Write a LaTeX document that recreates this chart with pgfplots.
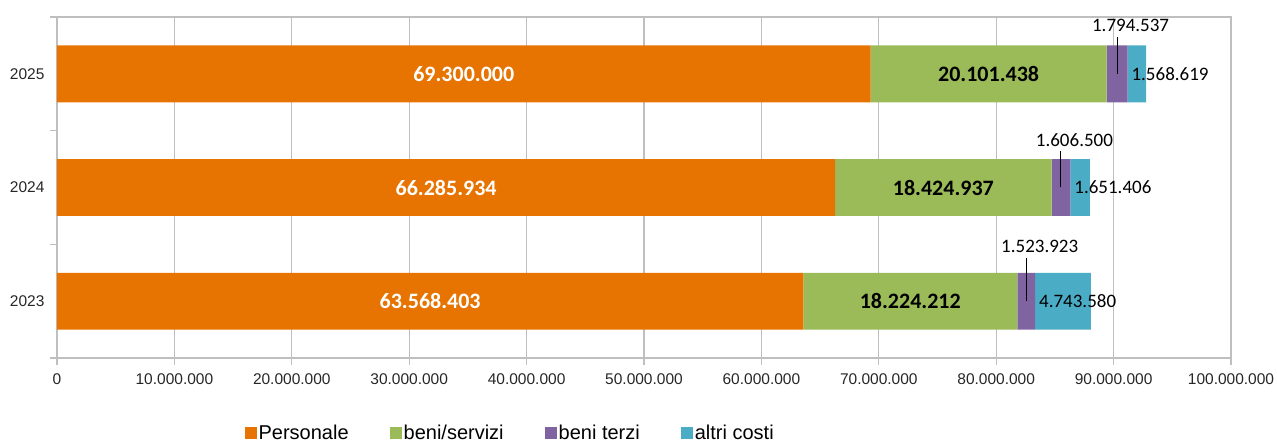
\documentclass[border=0pt]{standalone}
\usepackage{fontspec}
\setmainfont{Liberation Sans}
\newfontfamily\carlito{Carlito}
\usepackage{pgfplots}
\pgfplotsset{compat=1.18}

\definecolor{cPers}{HTML}{E77300}
\definecolor{cBeni}{HTML}{9BBB59}
\definecolor{cTerzi}{HTML}{8064A2}
\definecolor{cAltri}{HTML}{4BACC6}
\definecolor{cGrid}{HTML}{BFBFBF}

% labels hung on the "beni terzi" segment centre:
% #1 leader length, #2 beni terzi value, #3 gap to altri costi label, #4 altri costi value
\newcommand{\leader}[4]{\vbox{\offinterlineskip
  \hbox to 0pt{\hss\hspace{27pt}#2\hss}\kern5pt
  \hbox to 0pt{\hss\rule{0.9pt}{#1}\rlap{\hspace{#3}\smash{\raisebox{-0.5\height}{#4}}}\hss}}}

\pgfplotsset{
  sq/.style={legend image code/.code={\fill[##1] (0pt,-6pt) rectangle (12pt,6pt);}},
}

\begin{document}
\begin{tikzpicture}
\path[use as bounding box] (-57pt,-84pt) rectangle (1220pt,358pt);
\begin{axis}[
    scale only axis,
    width=1174pt, height=341pt,
    xbar stacked,
    bar width=0.5,
    xmin=0, xmax=100000000,
    ymin=-0.5, ymax=2.5,
    xtick={0,10000000,20000000,30000000,40000000,50000000,60000000,70000000,80000000,90000000,100000000},
    xticklabels={0,10.000.000,20.000.000,30.000.000,40.000.000,50.000.000,60.000.000,70.000.000,80.000.000,90.000.000,100.000.000},
    scaled x ticks=false,
    ytick={0,1,2},
    yticklabels={2023,2024,2025},
    ytick style={draw=none},
    extra y ticks={-0.5,0.5,1.5,2.5},
    extra y tick labels={},
    extra y tick style={ytick style={draw=cGrid, line width=1.2pt}, grid=none},
    tick pos=left,
    tick align=outside,
    major tick length=7pt,
    xtick style={draw=cGrid, line width=1.2pt},
    xmajorgrids,
    grid style={cGrid, line width=1.2pt},
    axis line style={cGrid, line width=1.2pt},
    tick label style={font=\fontsize{15.5}{18}\selectfont, text=black!85},
    yticklabel style={xshift=-2pt},
    xticklabel style={yshift=-5pt},
    legend style={draw=none, at={(0.3860,-0.2199)}, anchor=center,
      legend columns=4, font=\fontsize{20}{24}\selectfont,
      nodes={inner sep=2pt},
      /tikz/every even column/.append style={column sep=39pt}},
]
\addplot[sq, fill=cPers, draw=none, point meta=explicit symbolic,
  nodes near coords, nodes near coords style={anchor=center, text=white,
  font=\carlito\bfseries\fontsize{22}{26}\selectfont}]
  coordinates {(63568403,0) [63.568.403] (66285934,1) [66.285.934] (69300000,2) [69.300.000]};
\addlegendentry{Personale}
\addplot[sq, fill=cBeni, draw=none, point meta=explicit symbolic,
  nodes near coords, nodes near coords style={anchor=center, text=black,
  font=\carlito\bfseries\fontsize{22}{26}\selectfont}]
  coordinates {(18224212,0) [18.224.212] (18424937,1) [18.424.937] (20101438,2) [20.101.438]};
\addlegendentry{beni/servizi}
\addplot[sq, fill=cTerzi, draw=none, point meta=explicit symbolic,
  nodes near coords={\pgfplotspointmeta}, nodes near coords style={anchor=south, inner sep=0pt, text=black,
  font=\carlito\fontsize{19}{22}\selectfont}]
  coordinates {(1523923,0) [{\leader{43pt}{1.523.923}{12.5pt}{4.743.580}}]
               (1606500,1) [{\leader{36pt}{1.606.500}{13pt}{1.651.406}}]
               (1794537,2) [{\leader{37pt}{1.794.537}{14pt}{1.568.619}}]};
\addlegendentry{beni terzi}
\addplot[sq, fill=cAltri, draw=none]
  coordinates {(4743580,0) (1651406,1) (1568619,2)};
\addlegendentry{altri costi}
\end{axis}
\end{tikzpicture}
\end{document}
